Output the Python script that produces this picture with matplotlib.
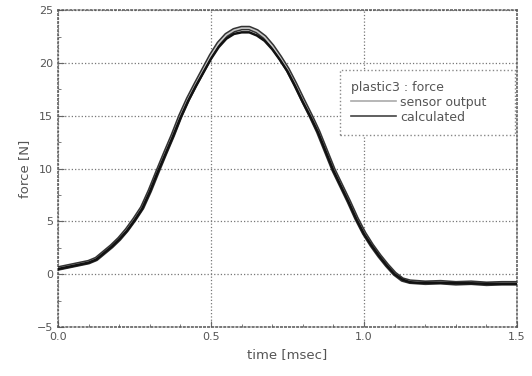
import numpy as np
import matplotlib
matplotlib.use('Agg')
import matplotlib.pyplot as plt
from matplotlib.ticker import MultipleLocator

# values
time_ms = [0.0, 0.025, 0.05, 0.075, 0.1, 0.125, 0.15, 0.175, 0.2, 0.225, 0.25, 0.275,
           0.3, 0.325, 0.35, 0.375, 0.4, 0.425, 0.45, 0.475, 0.5, 0.525, 0.55, 0.575,
           0.6, 0.625, 0.65, 0.675, 0.7, 0.725, 0.75, 0.775, 0.8, 0.825, 0.85, 0.875,
           0.9, 0.925, 0.95, 0.975, 1.0, 1.025, 1.05, 1.075, 1.1, 1.125, 1.15, 1.175,
           1.2, 1.25, 1.3, 1.35, 1.4, 1.45, 1.5]
calculated = [0.5, 0.65, 0.8, 0.95, 1.1, 1.4, 2.0, 2.6, 3.3, 4.1, 5.1, 6.2,
              7.8, 9.6, 11.3, 13.0, 14.8, 16.4, 17.8, 19.1, 20.4, 21.5, 22.3, 22.75,
              22.9, 22.9, 22.6, 22.1, 21.3, 20.3, 19.2, 17.8, 16.3, 14.9, 13.4, 11.6,
              9.8, 8.3, 6.8, 5.2, 3.8, 2.7, 1.7, 0.8, 0.0, -0.5, -0.75, -0.8,
              -0.8, -0.8, -0.85, -0.85, -0.9, -0.9, -0.9]
sensor_output = [0.55, 0.7, 0.85, 1.0, 1.15, 1.45, 2.05, 2.65, 3.35, 4.2, 5.2, 6.3,
                 7.9, 9.7, 11.45, 13.15, 15.0, 16.6, 18.0, 19.35, 20.7, 21.85, 22.65, 23.1,
                 23.3, 23.3, 23.0, 22.45, 21.6, 20.55, 19.4, 18.0, 16.5, 15.05, 13.5, 11.7,
                 9.9, 8.4, 6.9, 5.3, 3.9, 2.75, 1.75, 0.85, 0.05, -0.5, -0.7, -0.75,
                 -0.8, -0.75, -0.85, -0.8, -0.9, -0.85, -0.85]

plt.rcParams['font.family'] = ['DejaVu Sans']
txt = '#555555'

fig = plt.figure(figsize=(5.32, 3.76), dpi=100)
ax = fig.add_axes([0.109, 0.130, 0.863, 0.843])

# sensor output drawn as an outlined gray band, calculated as black line
ax.plot(time_ms, sensor_output, color='#333333', lw=3.4, solid_joinstyle='round',
        solid_capstyle='round', zorder=3)
ax.plot(time_ms, sensor_output, color='#c8c8c8', lw=1.2, solid_joinstyle='round', zorder=4)
ax.plot(time_ms, calculated, color='#111111', lw=1.8, solid_joinstyle='round', zorder=5)

# legend handles
ax.plot([], [], color='#aaaaaa', lw=1.2, label='sensor output')
ax.plot([], [], color='#444444', lw=1.2, label='calculated')

ax.set_xlim(0, 1.5)
ax.set_ylim(-5, 25)
ax.set_xticks([0, 0.5, 1.0, 1.5])
ax.set_xticklabels(['0.0', '0.5', '1.0', '1.5'])
ax.xaxis.set_minor_locator(MultipleLocator(0.1))
ax.yaxis.set_major_locator(MultipleLocator(5))
ax.yaxis.set_minor_locator(MultipleLocator(2.5))
ax.tick_params(which='both', direction='in', color='#666666', labelsize=8, labelcolor=txt)
ax.tick_params(which='major', length=4)
ax.tick_params(which='minor', length=2)
ax.grid(True, which='major', linestyle=':', color='#777777', lw=0.9)

for sp in ax.spines.values():
    sp.set_linestyle(':')
    sp.set_color('#555555')
    sp.set_linewidth(1.1)

ax.set_xlabel('time [msec]', fontsize=9.5, color=txt)
ax.set_ylabel('force [N]', fontsize=9.5, color=txt)

leg = ax.legend(title='plastic3 : force', loc='upper left',
                bbox_to_anchor=(0.614, 0.6, 0.382, 0.212), mode='expand',
                fontsize=9, title_fontsize=9, frameon=True, fancybox=False,
                edgecolor='#888888', framealpha=1, handlelength=3.6, borderpad=0.9,
                labelspacing=0.15, handletextpad=0.3, alignment='left', borderaxespad=0)
leg.get_frame().set_linestyle(':')
for t in leg.get_texts():
    t.set_color(txt)
leg.get_title().set_color(txt)

fig.savefig('out.png', dpi=100)
